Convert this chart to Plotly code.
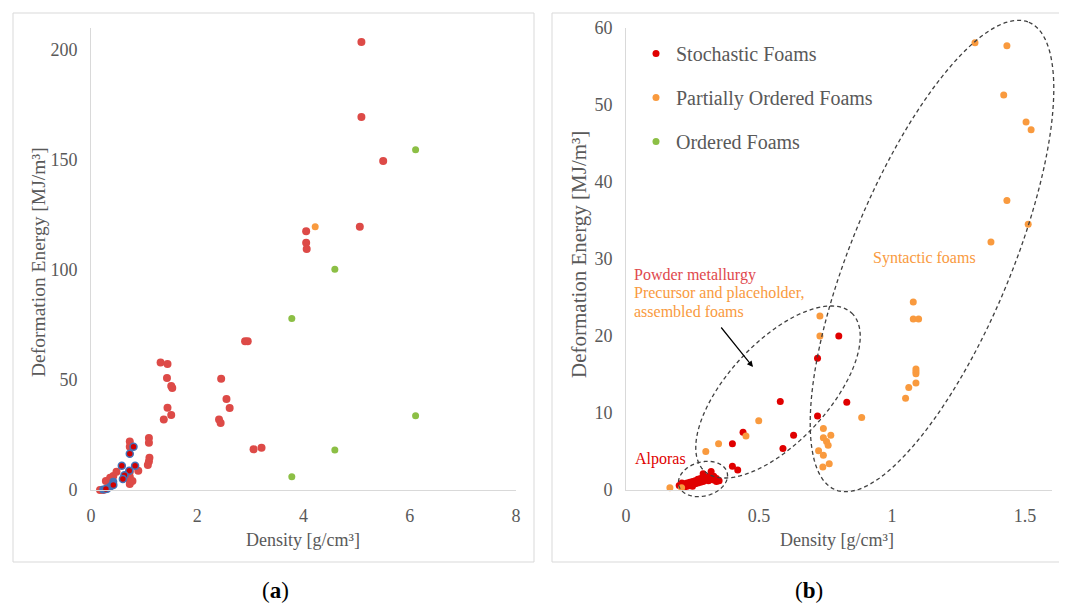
import math
import plotly.graph_objects as go

# ---------------- data: panel (a) ----------------
a_red_x = [5.09, 5.09, 5.50, 4.05, 5.06, 4.05, 4.06, 2.90, 2.95, 1.31, 1.44, 1.43, 1.51, 1.53,
           2.45, 2.55, 2.61, 1.44, 1.51, 1.37, 2.41, 2.44, 3.21, 3.06,
           1.09, 1.09, 1.10, 1.09, 1.07, 0.73, 0.73, 0.73, 0.73, 0.73, 0.73, 0.89, 0.78,
           0.28, 0.36, 0.42, 0.48, 0.17, 0.23]
a_red_y = [203.6, 169.5, 149.5, 117.6, 119.7, 112.4, 109.5, 67.6, 67.6, 57.9, 57.3, 50.9, 47.3, 46.4,
           50.6, 41.4, 37.3, 37.4, 34.1, 32.0, 32.0, 30.5, 19.2, 18.5,
           23.6, 21.5, 14.7, 12.9, 11.4, 22.0, 19.7, 8.3, 6.0, 4.5, 2.7, 8.8, 4.1,
           4.1, 5.6, 6.4, 8.3, 0.0, 0.0]
a_dark_x = [0.80, 0.73, 0.58, 0.83, 0.72, 0.63, 0.60, 0.42, 0.28]
a_dark_y = [19.7, 16.5, 11.0, 11.0, 8.8, 6.7, 5.0, 2.3, 0.5]
a_blue_x = [0.35, 0.30, 0.39, 0.23, 0.42]
a_blue_y = [1.2, 0.5, 2.0, 0.2, 3.8]
a_orange_x = [4.22]
a_orange_y = [119.7]
a_green_x = [6.11, 4.59, 3.78, 6.11, 4.59, 3.78]
a_green_y = [154.7, 100.3, 77.9, 33.8, 18.2, 6.0]

# ---------------- data: panel (b) ----------------
b_red_x = [0.20, 0.21, 0.22, 0.22, 0.23, 0.24, 0.24, 0.25, 0.25, 0.26, 0.26, 0.27, 0.27, 0.28,
           0.28, 0.29, 0.30, 0.30, 0.31, 0.31, 0.32, 0.33, 0.33, 0.34, 0.34, 0.35, 0.21, 0.23,
           0.29, 0.32, 0.40, 0.42, 0.40, 0.44, 0.59, 0.63, 0.58, 0.72, 0.83, 0.72, 0.80]
b_red_y = [0.6, 0.5, 0.8, 0.4, 0.9, 0.6, 1.0, 0.5, 1.1, 0.8, 1.2, 0.9, 1.4, 1.0,
           1.5, 1.1, 1.3, 1.6, 1.2, 1.7, 1.4, 1.3, 1.8, 1.1, 1.5, 1.2, 0.9, 0.5,
           2.1, 2.4, 3.1, 2.6, 6.0, 7.5, 5.4, 7.1, 11.5, 9.6, 11.4, 17.1, 20.0]
b_orange_x = [0.165, 0.209, 0.30, 0.348, 0.451, 0.499, 0.729, 0.729, 0.742, 0.77, 0.742, 0.754,
              0.76, 0.724, 0.742, 0.764, 0.74, 0.886, 1.051, 1.063, 1.09, 1.09, 1.09, 1.09,
              1.08, 1.08, 1.10, 1.372, 1.432, 1.512, 1.504, 1.523, 1.42, 1.432, 1.312]
b_orange_y = [0.3, 0.3, 5.0, 6.0, 7.0, 9.0, 22.6, 20.0, 8.0, 7.1, 6.8, 6.3,
              5.8, 5.1, 4.5, 3.4, 3.0, 9.4, 11.9, 13.3, 13.9, 15.1, 15.4, 15.7,
              24.4, 22.2, 22.2, 32.2, 37.6, 34.5, 47.8, 46.8, 51.3, 57.7, 58.1]

a_xticks = [0, 2, 4, 6, 8]
a_yticks = [0, 50, 100, 150, 200]
b_xticks = [0, 0.5, 1, 1.5]
b_xlabels = ["0", "0.5", "1", "1.5"]
b_yticks = [0, 10, 20, 30, 40, 50, 60]

W, H = 1059, 596   # page body keeps an 8 px margin
OFF = 8
FONT = "Liberation Serif"
GREY = "#595959"
RED_A = "#DD4A47"
RED_B = "#E00000"
ORANGE = "#F99A3E"
GREEN = "#8CBF45"
BLUE = "#4472B8"


def px(x):
    return (x - OFF) / W


def py(y):
    return 1 - (y - OFF) / H


fig = go.Figure()

# panel (b) traces first (legend order)
fig.add_trace(go.Scatter(x=b_red_x, y=b_red_y, mode="markers", name="Stochastic Foams",
                         marker=dict(color=RED_B, size=7), xaxis="x2", yaxis="y2",
                         cliponaxis=False, legendgroup="g1"))
fig.add_trace(go.Scatter(x=b_orange_x, y=b_orange_y, mode="markers", name="Partially Ordered Foams",
                         marker=dict(color=ORANGE, size=7), xaxis="x2", yaxis="y2",
                         cliponaxis=False, legendgroup="g2"))
# panel (a)
fig.add_trace(go.Scatter(x=a_green_x, y=a_green_y, mode="markers", name="Ordered Foams",
                         marker=dict(color=GREEN, size=7), xaxis="x", yaxis="y",
                         cliponaxis=False, legendgroup="g3"))
fig.add_trace(go.Scatter(x=a_red_x, y=a_red_y, mode="markers", showlegend=False,
                         marker=dict(color=RED_A, size=8), xaxis="x", yaxis="y", cliponaxis=False))
fig.add_trace(go.Scatter(x=a_orange_x, y=a_orange_y, mode="markers", showlegend=False,
                         marker=dict(color=ORANGE, size=7), xaxis="x", yaxis="y", cliponaxis=False))
fig.add_trace(go.Scatter(x=a_blue_x, y=a_blue_y, mode="markers", showlegend=False,
                         marker=dict(color=BLUE, size=8), xaxis="x", yaxis="y", cliponaxis=False))
fig.add_trace(go.Scatter(x=a_dark_x, y=a_dark_y, mode="markers", showlegend=False,
                         marker=dict(color="#D00000", size=7, line=dict(color=BLUE, width=1.5)),
                         xaxis="x", yaxis="y", cliponaxis=False))

ydom = [py(490), py(28)]
axis_common = dict(showline=True, linecolor="#D9D9D9", linewidth=1, showgrid=False, zeroline=False,
                   ticks="outside", ticklen=9, tickcolor="rgba(0,0,0,0)", automargin=False,
                   tickfont=dict(family=FONT, size=18, color=GREY))

fig.update_layout(
    width=W, height=H, margin=dict(l=0, r=0, t=0, b=0, pad=0, autoexpand=False),
    paper_bgcolor="white", plot_bgcolor="white",
    xaxis=dict(domain=[px(91), px(516)], range=[0, 8], tickvals=a_xticks, anchor="y", **axis_common),
    yaxis=dict(domain=ydom, range=[0, 210], tickvals=a_yticks, anchor="x", **axis_common),
    xaxis2=dict(domain=[px(626), px(1051.6)], range=[0, 1.6], tickvals=b_xticks, ticktext=b_xlabels,
                anchor="y2", **axis_common),
    yaxis2=dict(domain=ydom, range=[0, 60], tickvals=b_yticks, anchor="x2", **axis_common),
    legend=dict(x=px(636), y=py(34), xanchor="left", yanchor="top", bgcolor="rgba(0,0,0,0)",
                font=dict(family=FONT, size=20, color=GREY), tracegroupgap=15, itemsizing="trace"),
    showlegend=True,
)

shapes = []
# panel frames
for x0, x1 in [(13, 534), (552, 1064)]:
    shapes.append(dict(type="rect", xref="paper", yref="paper", x0=px(x0), x1=px(x1),
                       y0=py(562), y1=py(13), line=dict(color="#D9D9D9", width=1)))


def ellipse_path(cx, cy, a, b, ang):
    t = math.radians(ang)
    pts = []
    for i in range(161):
        s = 2 * math.pi * i / 160
        u, v = a * math.cos(s), b * math.sin(s)
        X = cx + u * math.cos(t) + v * math.sin(t)
        Y = cy - u * math.sin(t) + v * math.cos(t)
        pts.append((px(X), py(Y)))
    return "M " + " L ".join(f"{x:.5f},{y:.5f}" for x, y in pts) + " Z"


for cx, cy, a, b, ang in [(703, 479, 25, 17, 15), (778, 392, 108, 50, 47), (932, 256, 253, 80, 67.5)]:
    shapes.append(dict(type="path", xref="paper", yref="paper", path=ellipse_path(cx, cy, a, b, ang),
                       line=dict(color="#404040", width=1.3, dash="4px,3px")))
fig.update_layout(shapes=shapes)


def label(text, x, y, size, color, xanchor="center", angle=0):
    return dict(text=text, x=px(x), y=py(y), xref="paper", yref="paper", showarrow=False,
                xanchor=xanchor, yanchor="middle", textangle=angle,
                font=dict(family=FONT, size=size, color=color))


ann = [
    label("Density [g/cm³]", 303, 540, 18, GREY),
    label("Density [g/cm³]", 837, 540, 18, GREY),
    label("Deformation Energy [MJ/m³]", 38, 262, 19.5, GREY, angle=-90),
    label("Deformation Energy [MJ/m³]", 579, 255, 21, GREY, angle=-90),
    label("(<b>a</b>)", 275, 590, 23, "black"),
    label("(<b>b</b>)", 809, 590, 23, "black"),
    label("Powder metallurgy", 632, 275, 16, "#E0484C", xanchor="left"),
    label("Precursor and placeholder,", 632, 293, 16, ORANGE, xanchor="left"),
    label("assembled foams", 632, 311.5, 16, ORANGE, xanchor="left"),
    label("Syntactic foams", 871, 258, 16, ORANGE, xanchor="left"),
    label("Alporas", 633, 459, 16, RED_B, xanchor="left"),
    dict(text="", x=px(753), y=py(367), xref="paper", yref="paper", showarrow=True,
         ax=-33, ay=-41, arrowhead=2, arrowsize=1, arrowwidth=1.2, arrowcolor="black"),
]
fig.update_layout(annotations=ann)

fig.write_html("out.html")
